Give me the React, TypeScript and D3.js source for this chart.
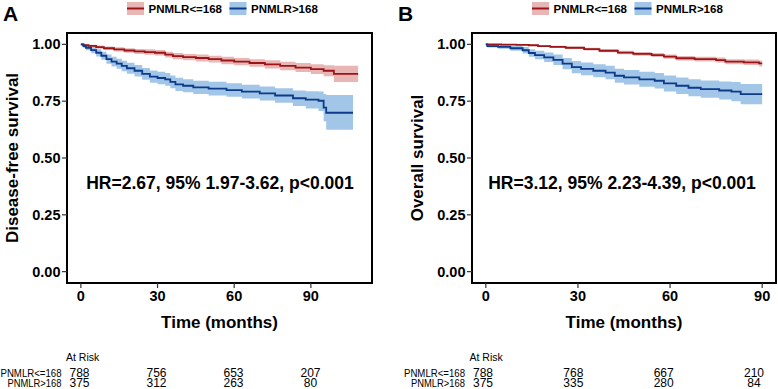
import React from 'react';
import * as d3 from 'd3';

// ---- data ----
const groups = ['PNMLR<=168', 'PNMLR>168'];
const xTicks = [0, 30, 60, 90];
const yTicks = [0, 0.25, 0.5, 0.75, 1];

// Panel A: disease-free survival
const dfsLowTime = [0, 1, 3, 6, 9, 13, 17, 21, 25, 29, 33, 36, 40, 45, 50, 55, 60, 66, 72, 78, 84, 90, 95, 99, 108.5];
const dfsLowSurv = [1, .997, .993, .988, .983, .978, .973, .969, .966, .963, .955, .948, .944, .940, .935, .929, .924, .918, .912, .905, .898, .891, .884, .870, .870];
const dfsLowLower = [1, .994, .988, .981, .975, .969, .963, .958, .954, .951, .942, .934, .930, .925, .920, .913, .908, .901, .894, .886, .878, .870, .860, .834, .834];
const dfsLowUpper = [1, 1, .998, .995, .991, .987, .983, .980, .978, .975, .968, .962, .958, .955, .950, .945, .940, .935, .930, .924, .918, .912, .908, .906, .906];

const dfsHighTime = [0, 1, 2, 4, 6, 8, 10, 12, 14, 16, 18, 21, 24, 27, 30, 33, 35, 37, 40, 44, 50, 57, 63, 70, 76, 83, 88, 93, 95, 96, 106.5];
const dfsHighSurv = [1, .992, .985, .975, .963, .950, .935, .924, .915, .905, .895, .884, .870, .858, .852, .846, .835, .824, .818, .811, .805, .799, .792, .784, .775, .763, .757, .752, .722, .699, .699];
const dfsHighLower = [1, .984, .974, .961, .947, .932, .915, .903, .893, .882, .871, .859, .844, .831, .825, .818, .807, .795, .789, .782, .775, .769, .762, .753, .743, .729, .718, .707, .662, .624, .624];
const dfsHighUpper = [1, 1, .996, .989, .979, .968, .955, .945, .937, .928, .919, .909, .896, .885, .879, .874, .863, .853, .847, .840, .835, .829, .822, .815, .807, .797, .794, .793, .782, .777, .777];

// Panel B: overall survival
const osLowTime = [0, 5, 10, 14, 17, 21, 26, 32, 37, 43, 48, 54, 58, 62, 68, 75, 78, 84, 89, 90];
const osLowSurv = [1, .999, .998, .996, .992, .989, .985, .979, .972, .964, .958, .953, .946, .939, .935, .931, .924, .921, .916, .916];
const osLowLower = [1, .998, .996, .993, .988, .984, .980, .973, .965, .956, .950, .944, .937, .929, .925, .920, .913, .909, .903, .903];
const osLowUpper = [1, 1, 1, .999, .996, .994, .990, .985, .979, .972, .966, .962, .955, .949, .945, .942, .935, .933, .929, .929];

const osHighTime = [0, 0.5, 4, 8, 12, 14, 16, 19, 22, 25, 28, 31, 35, 39, 42, 45, 50, 55, 58, 62, 66, 70, 76, 80, 83, 90];
const osHighSurv = [1, .992, .989, .983, .974, .962, .953, .943, .932, .915, .900, .892, .884, .876, .862, .855, .846, .840, .828, .818, .809, .803, .797, .792, .781, .781];
const osHighLower = [1, .986, .981, .972, .960, .945, .934, .922, .909, .890, .873, .864, .855, .846, .831, .823, .813, .806, .793, .782, .772, .765, .757, .750, .736, .736];
const osHighUpper = [1, .998, .997, .994, .988, .979, .972, .964, .955, .940, .927, .920, .913, .906, .893, .887, .879, .874, .863, .854, .846, .841, .837, .834, .826, .826];

const riskTimes = [0, 30, 60, 90];
const dfsRiskLow = [788, 756, 653, 207];
const dfsRiskHigh = [375, 312, 263, 80];
const osRiskLow = [788, 768, 667, 210];
const osRiskHigh = [375, 335, 280, 84];

const lineColors = ['#9B1518', '#0D3A8A'];
const fillColors = ['rgba(214,122,120,0.55)', 'rgba(112,168,218,0.65)'];
const font = '"Liberation Sans", Arial, Helvetica, sans-serif';

type Curve = { time: number[]; surv: number[]; lower: number[]; upper: number[] };

function Panel(props: any) {
  const { ox, letter, yTitle, hr, curves, tMax, risk, riskRange } = props;
  const left = ox + 67, right = ox + props.w, top = 33, bottom = 283;

  const x = d3.scaleLinear().domain([-0.05 * tMax, 1.05 * tMax]).range([left, right]);
  const y = d3.scaleLinear().domain([-0.05, 1.05]).range([bottom, top]);
  const xr = d3.scaleLinear().domain([0, 90]).range(riskRange);

  const line = d3.line<[number, number]>().x(d => x(d[0])).y(d => y(d[1])).curve(d3.curveStepAfter);
  const area = d3.area<[number, number, number]>()
    .x(d => x(d[0])).y0(d => y(d[1])).y1(d => y(d[2])).curve(d3.curveStepAfter);

  const cx = (left + right) / 2;
  const legX = ox + props.legX;

  return (
    <g fontFamily={font}>
      <text x={props.letterX} y={21} fontSize={21} fontWeight="bold">{letter}</text>

      {/* legend */}
      {groups.map((g, i) => {
        const lx = legX + i * 102.5;
        return (
          <g key={g}>
            <rect x={lx} y={2} width={17} height={13} fill={fillColors[i]} />
            <line x1={lx} x2={lx + 17} y1={8.5} y2={8.5} stroke={lineColors[i]} strokeWidth={2} />
            <text x={lx + 21.5} y={12.8} fontSize={11.5} fontWeight="bold">{g}</text>
          </g>
        );
      })}

      {/* confidence bands */}
      {curves.map((c: Curve, i: number) => (
        <path key={'a' + i} d={area(c.time.map((t, k) => [t, c.lower[k], c.upper[k]]) as any) || ''} fill={fillColors[i]} />
      ))}
      {curves.map((c: Curve, i: number) => (
        <path key={'l' + i} d={line(c.time.map((t, k) => [t, c.surv[k]]) as any) || ''} fill="none" stroke={lineColors[i]} strokeWidth={1.8} />
      ))}

      <rect x={left} y={top} width={right - left} height={bottom - top} fill="none" stroke="#000" strokeWidth={2} />

      {/* y axis */}
      {yTicks.map(v => (
        <g key={v}>
          <line x1={left - 5} x2={left} y1={y(v)} y2={y(v)} stroke="#333" strokeWidth={1.2} />
          <text x={left - 6.5} y={y(v) + 5} textAnchor="end" fontSize={14.5} fontWeight="bold">{v.toFixed(2)}</text>
        </g>
      ))}
      {/* x axis */}
      {xTicks.map(v => (
        <g key={v}>
          <line x1={x(v)} x2={x(v)} y1={bottom} y2={bottom + 5} stroke="#333" strokeWidth={1.2} />
          <text x={x(v)} y={300.5} textAnchor="middle" fontSize={14.5} fontWeight="bold">{v}</text>
        </g>
      ))}

      <text x={cx} y={327.5} textAnchor="middle" fontSize={17} fontWeight="bold">Time (months)</text>
      <text transform={`translate(${ox + props.yTitleX},${(top + bottom) / 2}) rotate(-90)`} textAnchor="middle" fontSize={17} fontWeight="bold">{yTitle}</text>

      <text x={props.hrX} y={189} textAnchor="middle" fontSize={17.5} fontWeight="bold">{hr}</text>

      {/* at risk table */}
      <text x={xr(0) - 13.5} y={360.5} fontSize={10.5}>At Risk</text>
      {risk.map((row: number[], i: number) => {
        const labelEnd = xr(0) - 18;
        const labelW = i === 0 ? 61 : 54;
        return (
          <g key={'r' + i}>
            <text x={labelEnd - labelW} y={376.5 + i * 10} fontSize={10.5}
              textLength={labelW} lengthAdjust="spacingAndGlyphs">{groups[i]}</text>
            {row.map((n, k) => (
              <text key={k} x={xr(riskTimes[k])} y={376.5 + i * 10} textAnchor="middle" fontSize={12}>{n}</text>
            ))}
          </g>
        );
      })}
    </g>
  );
}

export default function App() {
  const dfsCurves: Curve[] = [
    { time: dfsLowTime, surv: dfsLowSurv, lower: dfsLowLower, upper: dfsLowUpper },
    { time: dfsHighTime, surv: dfsHighSurv, lower: dfsHighLower, upper: dfsHighUpper },
  ];
  const osCurves: Curve[] = [
    { time: osLowTime, surv: osLowSurv, lower: osLowLower, upper: osLowUpper },
    { time: osHighTime, surv: osHighSurv, lower: osHighLower, upper: osHighUpper },
  ];
  return (
    <svg width={778} height={389} style={{ position: 'absolute', left: 0, top: 0, background: '#fff' }}>
      <Panel ox={0} w={372} letter="A" letterX={3} yTitle="Disease-free survival" yTitleX={18}
        hr="HR=2.67, 95% 1.97-3.62, p<0.001" hrX={220} curves={dfsCurves} tMax={108.5}
        risk={[dfsRiskLow, dfsRiskHigh]} riskRange={[79.5, 310.5]} legX={127} />
      <Panel ox={405} w={371} letter="B" letterX={398} yTitle="Overall survival" yTitleX={18}
        hr="HR=3.12, 95% 2.23-4.39, p<0.001" hrX={622} curves={osCurves} tMax={90}
        risk={[osRiskLow, osRiskHigh]} riskRange={[483, 754]} legX={127} />
    </svg>
  );
}
